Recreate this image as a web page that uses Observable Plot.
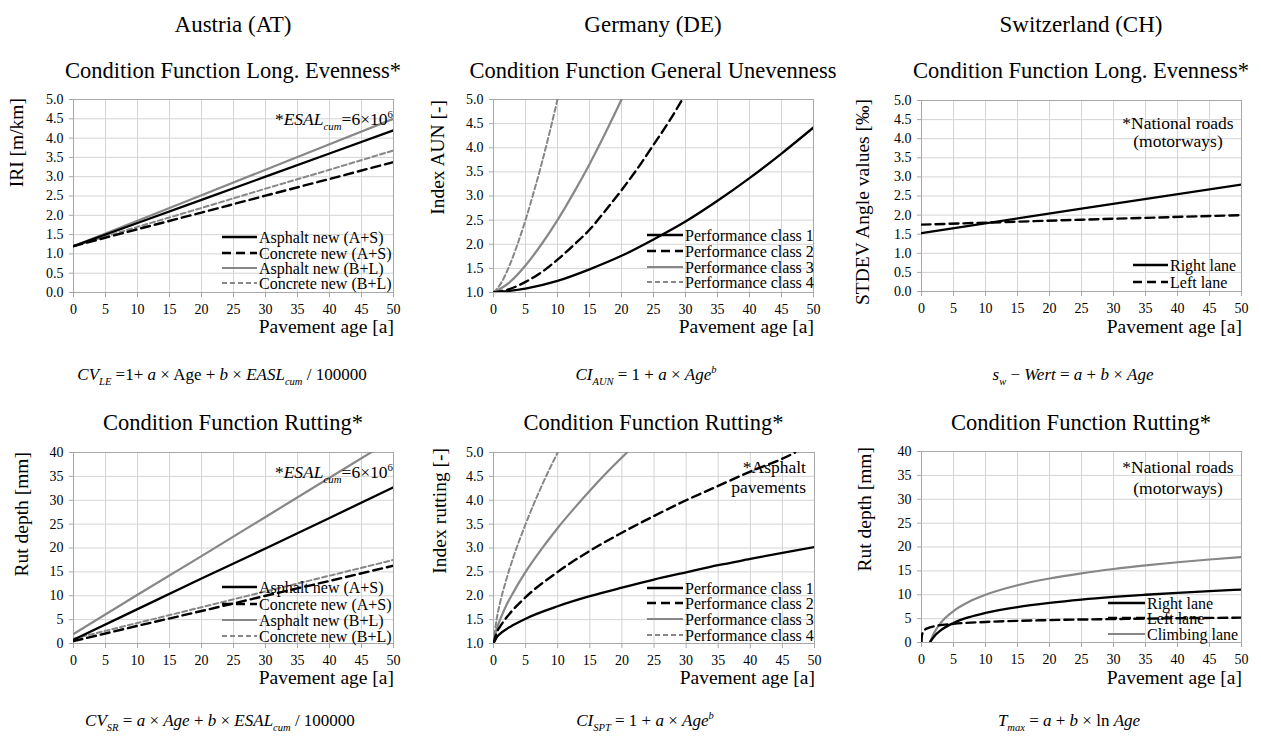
<!DOCTYPE html>
<html><head><meta charset="utf-8">
<script src="https://cdn.jsdelivr.net/npm/d3@7"></script>
<script src="https://cdn.jsdelivr.net/npm/@observablehq/plot@0.6"></script>
<style>
html,body{margin:0;padding:0;background:#fff;}
#root{position:relative;width:1261px;height:736px;overflow:hidden;font-family:"Liberation Serif","Times New Roman",serif;}
#root svg{position:absolute;}
</style></head><body><div id="root"></div>
<script>
// ---------- tick values ----------
const xTicks = [0, 5, 10, 15, 20, 25, 30, 35, 40, 45, 50];
const yTicks0to5 = [0, 0.5, 1, 1.5, 2, 2.5, 3, 3.5, 4, 4.5, 5];
const yTicks1to5 = [1, 1.5, 2, 2.5, 3, 3.5, 4, 4.5, 5];
const yTicks0to40 = [0, 5, 10, 15, 20, 25, 30, 35, 40];

// ---------- Austria: IRI ----------
const atIriAge = [0, 10, 20, 30, 40, 50];
const atIriAsphaltAS = [1.2, 1.8, 2.4, 3.0, 3.6, 4.2];
const atIriConcreteAS = [1.2, 1.64, 2.07, 2.51, 2.94, 3.38];
const atIriAsphaltBL = [1.2, 1.86, 2.52, 3.18, 3.84, 4.5];
const atIriConcreteBL = [1.2, 1.7, 2.19, 2.69, 3.18, 3.68];

// ---------- Germany: general unevenness ----------
const deAunAge1 = [0, 5, 10, 15, 20, 25, 30, 35, 40, 45, 50];
const deAunClass1 = [1.0, 1.08, 1.24, 1.48, 1.76, 2.1, 2.47, 2.9, 3.37, 3.88, 4.42];
const deAunAge2 = [0, 2.5, 5, 7.5, 10, 12.5, 15, 17.5, 20, 22.5, 25, 27.5, 29.5];
const deAunClass2 = [1.0, 1.07, 1.22, 1.42, 1.68, 1.98, 2.3, 2.7, 3.12, 3.57, 4.06, 4.56, 5.0];
const deAunAge3 = [0, 2.5, 5, 7.5, 10, 12.5, 15, 17.5, 20];
const deAunClass3 = [1.0, 1.21, 1.56, 2.0, 2.5, 3.06, 3.66, 4.31, 5.0];
const deAunAge4 = [0, 1.25, 2.5, 3.75, 5, 6.25, 7.5, 8.75, 10];
const deAunClass4 = [1.0, 1.21, 1.56, 2.0, 2.5, 3.06, 3.66, 4.31, 5.0];

// ---------- Switzerland: STDEV angle values ----------
const chSwAge = [0, 25, 50];
const chSwRight = [1.53, 2.17, 2.8];
const chSwLeft = [1.75, 1.88, 2.0];

// ---------- Austria: rutting ----------
const atRutAge = [0, 10, 20, 30, 40, 50];
const atRutAsphaltAS = [0.8, 7.2, 13.6, 19.9, 26.3, 32.7];
const atRutConcreteAS = [0.5, 3.7, 6.8, 10.0, 13.1, 16.3];
const atRutAsphaltBL = [2.0, 10.2, 18.3, 26.5, 34.7, 42.9];
const atRutConcreteBL = [1.0, 4.3, 7.6, 10.9, 14.2, 17.5];

// ---------- Germany: rutting ----------
const deRutAge1 = [0, 0.5, 1, 2, 3, 5, 10, 15, 20, 25, 30, 35, 40, 45, 50];
const deRutClass1 = [1.0, 1.13, 1.2, 1.3, 1.38, 1.52, 1.78, 1.99, 2.17, 2.34, 2.49, 2.64, 2.77, 2.9, 3.02];
const deRutAge2 = [0, 0.5, 1, 2, 3, 5, 10, 15, 20, 25, 30, 35, 40, 45, 47];
const deRutClass2 = [1.0, 1.23, 1.35, 1.54, 1.7, 1.97, 2.5, 2.94, 3.32, 3.67, 4.0, 4.3, 4.6, 4.87, 5.0];
const deRutAge3 = [0, 0.5, 1, 2, 3, 5, 7.5, 10, 12.5, 15, 17.5, 20.8];
const deRutClass3 = [1.0, 1.31, 1.49, 1.8, 2.05, 2.5, 2.98, 3.42, 3.82, 4.2, 4.56, 5.0];
const deRutAge4 = [0, 0.5, 1, 2, 3, 5, 7.5, 10];
const deRutClass4 = [1.0, 1.52, 1.84, 2.34, 2.77, 3.5, 4.3, 5.0];

// ---------- Switzerland: rutting ----------
const chRutAgeRight = [1.3, 2, 3, 5, 7.5, 10, 15, 20, 25, 30, 35, 40, 45, 50];
const chRutRight = [0, 1.31, 2.54, 4.09, 5.33, 6.2, 7.43, 8.3, 8.99, 9.54, 10.0, 10.41, 10.77, 11.09];
const chRutAgeLeft = [0.005, 0.02, 0.1, 0.5, 1, 2, 5, 10, 20, 30, 40, 50];
const chRutLeft = [0, 0.82, 1.72, 2.62, 3.01, 3.4, 3.91, 4.3, 4.69, 4.91, 5.08, 5.2];
const chRutAgeClimb = [1.3, 2, 3, 5, 7.5, 10, 15, 20, 25, 30, 35, 40, 45, 50];
const chRutClimb = [0, 2.09, 4.09, 6.59, 8.58, 10.0, 11.99, 13.4, 14.49, 15.39, 16.14, 16.8, 17.38, 17.9];

// ---------- labels ----------
const countries = ["Austria (AT)", "Germany (DE)", "Switzerland (CH)"];
const topTitles = ["Condition Function Long. Evenness*", "Condition Function General Unevenness", "Condition Function Long. Evenness*"];
const bottomTitles = ["Condition Function Rutting*", "Condition Function Rutting*", "Condition Function Rutting*"];
const xLabel = "Pavement age [a]";
const yLabels = ["IRI [m/km]", "Index AUN [-]", "STDEV Angle values [‰]", "Rut depth [mm]", "Index rutting [-]", "Rut depth [mm]"];
const atLegend = ["Asphalt new (A+S)", "Concrete new (A+S)", "Asphalt new (B+L)", "Concrete new (B+L)"];
const deLegend = ["Performance class 1", "Performance class 2", "Performance class 3", "Performance class 4"];
const chSwLegend = ["Right lane", "Left lane"];
const chRutLegend = ["Right lane", "Left lane", "Climbing lane"];

// ---------- styling ----------
const FONT = '"Liberation Serif", "Times New Roman", serif';
const GRID = "#d4d4d4";
const FRAME = "#a8a8a8";
const GRAY = "#878787";
const ST = {
  blackSolid: {stroke: "#000", strokeWidth: 2.3},
  blackDash: {stroke: "#000", strokeWidth: 2.4, strokeDasharray: "9,5"},
  graySolid: {stroke: GRAY, strokeWidth: 2.2},
  grayDash: {stroke: GRAY, strokeWidth: 2, strokeDasharray: "5,3"}
};
const fmt1 = d3.format(".1f");
const fmt0 = d3.format("d");

const root = document.getElementById("root");

function panel(frame, yDomain, yTicks, yFmt, series) {
  const [x0, x1, y0, y1] = frame;
  const mL = 60, mR = 12, mT = 12, mB = 32;
  const chart = Plot.plot({
    width: x1 - x0 + mL + mR,
    height: y1 - y0 + mT + mB,
    marginLeft: mL, marginRight: mR, marginTop: mT, marginBottom: mB,
    x: {domain: [0, 50]},
    y: {domain: yDomain},
    style: {fontFamily: FONT, fontSize: "14px", color: "#000", background: "transparent", overflow: "visible"},
    marks: [
      Plot.gridX(xTicks, {stroke: GRID, strokeOpacity: 1, strokeWidth: 1}),
      Plot.gridY(yTicks, {stroke: GRID, strokeOpacity: 1, strokeWidth: 1}),
      Plot.frame({stroke: FRAME, strokeWidth: 1}),
      Plot.axisX(xTicks, {tickSize: 5, tickPadding: 7, stroke: FRAME, fill: "#000", fontSize: 14, label: null}),
      Plot.axisY(yTicks, {tickSize: 4, tickPadding: 6, stroke: FRAME, fill: "#000", fontSize: 14, tickFormat: yFmt, label: null}),
      ...series.map(s => Plot.line(
        s.ages.map((a, i) => ({age: a, v: s.values[i]})),
        {x: "age", y: "v", clip: true, curve: s.curve || "linear", ...s.style}
      ))
    ]
  });
  chart.style.left = (x0 - mL) + "px";
  chart.style.top = (y0 - mT) + "px";
  root.appendChild(chart);
}

// frames: [left, right, top, bottom] of plotting area
const F = [
  [73, 393, 99, 292], [493, 813, 99, 292], [921, 1241, 100, 291],
  [73, 393, 452, 643], [493, 814, 452, 643], [921, 1241, 451, 642]
];

panel(F[0], [0, 5], yTicks0to5, fmt1, [
  {ages: atIriAge, values: atIriConcreteBL, style: ST.grayDash},
  {ages: atIriAge, values: atIriAsphaltBL, style: ST.graySolid},
  {ages: atIriAge, values: atIriConcreteAS, style: ST.blackDash},
  {ages: atIriAge, values: atIriAsphaltAS, style: ST.blackSolid}
]);
panel(F[1], [1, 5], yTicks1to5, fmt1, [
  {ages: deAunAge4, values: deAunClass4, style: ST.grayDash, curve: "monotone-x"},
  {ages: deAunAge3, values: deAunClass3, style: ST.graySolid, curve: "monotone-x"},
  {ages: deAunAge2, values: deAunClass2, style: ST.blackDash, curve: "monotone-x"},
  {ages: deAunAge1, values: deAunClass1, style: ST.blackSolid, curve: "monotone-x"}
]);
panel(F[2], [0, 5], yTicks0to5, fmt1, [
  {ages: chSwAge, values: chSwLeft, style: ST.blackDash},
  {ages: chSwAge, values: chSwRight, style: ST.blackSolid}
]);
panel(F[3], [0, 40], yTicks0to40, fmt0, [
  {ages: atRutAge, values: atRutConcreteBL, style: ST.grayDash},
  {ages: atRutAge, values: atRutAsphaltBL, style: ST.graySolid},
  {ages: atRutAge, values: atRutConcreteAS, style: ST.blackDash},
  {ages: atRutAge, values: atRutAsphaltAS, style: ST.blackSolid}
]);
panel(F[4], [1, 5], yTicks1to5, fmt1, [
  {ages: deRutAge4, values: deRutClass4, style: ST.grayDash, curve: "monotone-x"},
  {ages: deRutAge3, values: deRutClass3, style: ST.graySolid, curve: "monotone-x"},
  {ages: deRutAge2, values: deRutClass2, style: ST.blackDash, curve: "monotone-x"},
  {ages: deRutAge1, values: deRutClass1, style: ST.blackSolid, curve: "monotone-x"}
]);
panel(F[5], [0, 40], yTicks0to40, fmt0, [
  {ages: chRutAgeClimb, values: chRutClimb, style: ST.graySolid, curve: "monotone-x"},
  {ages: chRutAgeLeft, values: chRutLeft, style: ST.blackDash, curve: "monotone-x"},
  {ages: chRutAgeRight, values: chRutRight, style: ST.blackSolid, curve: "monotone-x"}
]);

// ---------- text overlay ----------
const ov = d3.select(root).append("svg")
  .attr("width", 1261).attr("height", 736)
  .style("left", "0px").style("top", "0px")
  .style("pointer-events", "none")
  .style("font-family", FONT);

function txt(x, y, s, size, anchor = "middle", rot = false) {
  const t = ov.append("text").attr("font-size", size).attr("text-anchor", anchor).attr("fill", "#000").text(s);
  if (rot) t.attr("transform", `translate(${x},${y}) rotate(-90)`);
  else t.attr("x", x).attr("y", y);
  return t;
}
function rich(x, y, segs, size, anchor = "middle") {
  const t = ov.append("text").attr("x", x).attr("y", y).attr("font-size", size)
    .attr("text-anchor", anchor).attr("fill", "#000").style("white-space", "pre");
  let cur = 0;
  for (const s of segs) {
    const target = s.sub ? size * 0.28 : s.sup ? -size * 0.42 : 0;
    const ts = t.append("tspan").attr("dy", target - cur).text(s.t);
    cur = target;
    if (s.i) ts.attr("font-style", "italic");
    if (s.sub || s.sup) ts.attr("font-size", size * 0.62);
  }
}
function legend(x0, x1, rows, labels, styles, size = 16) {
  labels.forEach((lab, i) => {
    const st = styles[i];
    ov.append("line").attr("x1", x0).attr("x2", x1).attr("y1", rows[i]).attr("y2", rows[i])
      .attr("stroke", st.stroke).attr("stroke-width", st.strokeWidth)
      .attr("stroke-dasharray", st.strokeDasharray || null);
    txt(x1 + 2, rows[i] + 5.5, lab, size, "start");
  });
}

const centers = F.map(f => (f[0] + f[1]) / 2);
countries.forEach((c, i) => txt(centers[i], 31.5, c, 23));
topTitles.forEach((c, i) => txt(centers[i], 78, c, 22.5));
bottomTitles.forEach((c, i) => txt(centers[i + 3], 430, c, 22.5));
F.forEach((f, i) => txt(f[1] + 1, i < 3 ? 333 : 684, xLabel, 19.5, "end"));

const yLabPos = [[23, 98], [444, 100], [869, 99], [27.5, 452], [446, 448], [871, 447]];
yLabels.forEach((l, i) => txt(yLabPos[i][0], yLabPos[i][1], l, 19.5, "end", true));

// legends
const fourStyles = [ST.blackSolid, ST.blackDash, ST.graySolid, ST.grayDash];
legend(222, 257, [237, 253, 268, 283], atLegend, fourStyles);
legend(647, 683, [235, 251, 267, 282], deLegend, fourStyles);
legend(1133, 1168, [265, 282], chSwLegend, [ST.blackSolid, ST.blackDash]);
legend(222, 257, [587, 604, 620, 636], atLegend, fourStyles);
legend(647, 683, [588, 603, 619, 635], deLegend, fourStyles);
legend(1108, 1145, [603, 618, 634], chRutLegend, [ST.blackSolid, ST.blackDash, ST.graySolid]);

// annotations
const esal = [{t: "*"}, {t: "ESAL", i: 1}, {t: "cum", i: 1, sub: 1}, {t: "=6×10"}, {t: "6", sup: 1}];
rich(393, 125, esal, 17.5, "end");
rich(393, 478, esal, 17.5, "end");
txt(1178, 129, "*National roads", 17.5);
txt(1178, 147, "(motorways)", 17.5);
txt(1178, 473, "*National roads", 17.5);
txt(1178, 494, "(motorways)", 17.5);
txt(806, 473, "*Asphalt", 17.5, "end");
txt(806, 493, "pavements", 17.5, "end");

// formulas
const FS = 17;
rich(222, 380, [{t: "CV", i: 1}, {t: "LE", i: 1, sub: 1}, {t: " =1+ "}, {t: "a", i: 1}, {t: " × Age + "}, {t: "b", i: 1}, {t: " × "}, {t: "EASL", i: 1}, {t: "cum", i: 1, sub: 1}, {t: " / 100000"}], FS);
rich(646, 380, [{t: "CI", i: 1}, {t: "AUN", i: 1, sub: 1}, {t: " = 1 + "}, {t: "a", i: 1}, {t: " × "}, {t: "Age", i: 1}, {t: "b", i: 1, sup: 1}], FS);
rich(1073, 380, [{t: "s", i: 1}, {t: "w", i: 1, sub: 1}, {t: " − "}, {t: "Wert", i: 1}, {t: " = "}, {t: "a", i: 1}, {t: " + "}, {t: "b", i: 1}, {t: " × "}, {t: "Age", i: 1}], FS);
rich(220, 726, [{t: "CV", i: 1}, {t: "SR", i: 1, sub: 1}, {t: " = "}, {t: "a", i: 1}, {t: " × "}, {t: "Age", i: 1}, {t: " + "}, {t: "b", i: 1}, {t: " × "}, {t: "ESAL", i: 1}, {t: "cum", i: 1, sub: 1}, {t: " / 100000"}], FS);
rich(645, 726, [{t: "CI", i: 1}, {t: "SPT", i: 1, sub: 1}, {t: " = 1 + "}, {t: "a", i: 1}, {t: " × "}, {t: "Age", i: 1}, {t: "b", i: 1, sup: 1}], FS);
rich(1069, 726, [{t: "T", i: 1}, {t: "max", i: 1, sub: 1}, {t: " = "}, {t: "a", i: 1}, {t: " + "}, {t: "b", i: 1}, {t: " × ln "}, {t: "Age", i: 1}], FS);
</script></body></html>
